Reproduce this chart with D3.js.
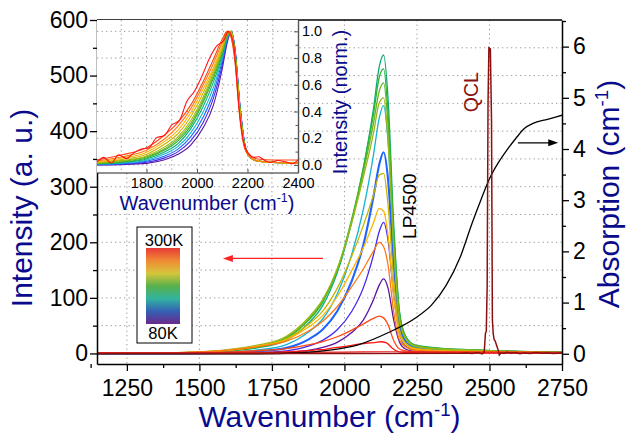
<!DOCTYPE html>
<html>
<head>
<meta charset="utf-8">
<script src="https://cdn.jsdelivr.net/npm/d3@7"></script>
<style>
  body { margin: 0; background: #fff; }
  text { font-family: Arial, "Liberation Sans", sans-serif; }
</style>
</head>
<body>
<div id="chart"></div>
<script>
// wavenumber grid (cm-1) shared by the temperature spectra
const wn = [1150, 1450, 1600, 1700, 1800, 1875, 1925, 1975, 2025, 2065, 2100, 2120, 2135, 2150, 2170, 2190, 2210, 2240, 2300, 2450, 2750];

// emission spectra (a. u.), coldest (80K, purple) towards hot (red)
const spectra = [
  [0, 0, 0, 0.4, 1.6, 5.4, 10.7, 20, 37.5, 60, 96.5, 123, 134, 118, 60, 20, 8, 4, 2.7, 1.6, 0.5],
  [0, 0, 0.5, 1.4, 4.7, 13, 23.6, 42.5, 75.5, 118, 177, 219.5, 236, 205, 104, 35, 14, 7, 4.7, 2.8, 1],
  [0, 0.2, 1.4, 3.6, 10, 25, 43, 76, 130, 195, 282, 340, 362, 315, 159, 52, 22, 11, 7, 4.3, 1.4],
  [0, 0.4, 2.7, 6.2, 16, 38, 62, 107, 178, 259, 357, 424, 446, 384, 192, 62, 27, 13, 9, 5.4, 1.8],
  [0, 1, 4, 10, 24, 54, 86, 145, 236, 333, 440, 516, 537, 462, 231, 75, 32, 16, 11, 6.4, 2],
  [0, 1.3, 5, 11, 27, 59, 92, 149, 241, 333, 430, 497, 512, 435, 215, 72, 31, 15, 10, 6, 2],
  [0, 1.5, 6, 13, 29, 61, 95, 151, 239, 326, 414, 472, 487, 414, 205, 66, 29, 15, 10, 5.8, 2],
  [0, 2, 7, 15, 31, 64, 97, 152, 235, 317, 396, 451, 460, 386, 189, 60, 28, 14, 9, 5.5, 1.8],
  [0, 1.6, 6, 13, 26, 52, 76, 117, 175, 230, 285, 321, 324, 269, 130, 42, 19, 10, 6.5, 3.9, 1.3],
  [0, 1.6, 5.7, 13, 25, 47, 68, 102, 149, 190, 235, 261, 256, 214, 102, 33, 16, 8, 5, 3.1, 1],
  [0, 2, 6, 12, 22, 40, 58, 84, 120, 152, 184, 200, 192, 160, 74, 24, 12, 6, 4, 2.4, 0.8],
  [0, 1, 2.5, 5, 8.7, 15.4, 21.4, 30, 42, 53, 63, 67, 64, 52, 23, 8, 4.7, 3, 2.5, 2.5, 1.5]
];
const spectrumColors = ["#5a14a0", "#4428f0", "#1e64ff", "#14b4d2", "#10aa78", "#28b432",
  "#64b41e", "#9ab814", "#c8b400", "#ffb400", "#ff7814", "#ff4614"];

// hottest spectrum, noisy, own grid
const hotWn = [1150, 1300, 1450, 1550, 1600, 1630, 1660, 1690, 1720, 1750, 1780, 1810, 1840, 1870, 1900, 1930, 1960, 1990, 2020, 2050, 2080, 2105, 2125, 2145, 2165, 2185, 2205, 2225, 2245, 2265, 2290, 2320, 2350, 2380, 2410, 2450, 2550, 2750];
const hotIntensity = [0.3, 0.5, 0.4, 0.6, 0.5, 1.2, 0.3, 1.6, 1.0, 1.9, 2.5, 2.7, 4.3, 4.6, 6.3, 7, 10, 11.6, 14, 16.8, 18.8, 19.5, 21, 19, 9.5, 3.5, 1.8, 1.2, 1.3, 0.8, 0.4, 0.7, 0.5, 0.2, 1.0, 0.6, 0.5, 0.4];
const hotColor = "#ff1414";

// nearly flat red trace
const flatWn = [1150, 1700, 2000, 2150, 2300, 2750];
const flatIntensity = [1.5, 2, 2.5, 3, 2.5, 2];

// QCL emission line
const qclWn = [1150, 2000, 2400, 2420, 2440, 2460, 2475, 2482, 2486, 2489, 2492, 2495, 2498, 2503, 2507, 2510, 2513, 2516, 2520, 2525, 2530, 2534, 2540, 2550, 2560, 2575, 2590, 2605, 2620, 2640, 2660, 2680, 2700, 2720, 2750];
const qclIntensity = [0, 0, 0.5, 1, 0, 1.5, -1, 3, 36, 40, 120, 450, 550, 548, 420, 60, 35, 25, 22, 14, 6, -3, 1, 0, 2, 0.5, 1.5, -0.5, 1, 0, 1.5, 0.5, 1, 0, 1];

// LP4500 filter absorption (cm-1), right axis
const absWn = [1150, 1700, 1850, 1950, 2050, 2150, 2250, 2300, 2350, 2400, 2440, 2470, 2500, 2530, 2560, 2590, 2620, 2650, 2700, 2750];
const absValues = [0, 0, 0.02, 0.07, 0.18, 0.41, 0.72, 0.95, 1.33, 1.9, 2.55, 3.0, 3.42, 3.73, 3.98, 4.2, 4.4, 4.5, 4.58, 4.66];

// ticks
const xTicks = [1250, 1500, 1750, 2000, 2250, 2500, 2750];
const yTicks = [0, 100, 200, 300, 400, 500, 600];
const absTicks = [0, 1, 2, 3, 4, 5, 6];
const insetXTicks = [1800, 2000, 2200, 2400];
const insetYTicks = [0, 0.2, 0.4, 0.6, 0.8, 1.0];
const colorbarStops = ["#e83a36", "#f08a34", "#d6c63c", "#58b04a", "#32b4a0", "#3460b4", "#6a2a8a"];

const W = 631, H = 433;
const m = { l: 97, r: 562, t: 20, b: 364 };
const navy = "#0a0a8c";
const intFmt = d3.format("d");

const svg = d3.select("#chart").append("svg").attr("width", W).attr("height", H);

const x = d3.scaleLinear().domain([1147, 2750]).range([m.l, m.r]);
const y = d3.scaleLinear().domain([-19, 600]).range([m.b, m.t]);
const yAbs = d3.scaleLinear().domain([-0.2, 6.52]).range([m.b, m.t]);

svg.append("clipPath").attr("id", "clipMain").append("rect")
  .attr("x", m.l).attr("y", m.t).attr("width", m.r - m.l).attr("height", m.b - m.t);

// grid
const grid = svg.append("g").attr("stroke", "#9a9a9a").attr("stroke-width", 1).attr("stroke-dasharray", "1.3,3.2");
grid.selectAll(".gx").data(xTicks.slice(0, -1)).join("line")
  .attr("x1", d => x(d)).attr("x2", d => x(d)).attr("y1", m.t).attr("y2", m.b);
grid.selectAll(".gy").data(d3.range(0, 600, 50)).join("line")
  .attr("x1", m.l).attr("x2", m.r).attr("y1", d => y(d)).attr("y2", d => y(d));

// curves
const plot = svg.append("g").attr("clip-path", "url(#clipMain)");
const line = d3.line().x(d => x(d[0])).y(d => y(d[1])).curve(d3.curveMonotoneX);

spectra.forEach((s, i) => {
  plot.append("path").datum(wn.map((w, k) => [w, s[k]]))
    .attr("fill", "none").attr("stroke", spectrumColors[i])
    .attr("stroke-width", i === 2 ? 2.1 : 1.3).attr("d", line);
});
plot.append("path").datum(hotWn.map((w, k) => [w, hotIntensity[k]]))
  .attr("fill", "none").attr("stroke", hotColor).attr("stroke-width", 1.3).attr("d", line);
plot.append("path").datum(flatWn.map((w, k) => [w, flatIntensity[k]]))
  .attr("fill", "none").attr("stroke", "#e82020").attr("stroke-width", 1.2).attr("d", line);

const absLine = d3.line().x(d => x(d[0])).y(d => yAbs(d[1])).curve(d3.curveMonotoneX);
plot.append("path").datum(absWn.map((w, k) => [w, absValues[k]]))
  .attr("fill", "none").attr("stroke", "#000").attr("stroke-width", 1.3).attr("d", absLine);

plot.append("path").datum(qclWn.map((w, k) => [w, qclIntensity[k]]))
  .attr("fill", "none").attr("stroke", "#8b1010").attr("stroke-width", 1.5)
  .attr("d", d3.line().x(d => x(d[0])).y(d => y(d[1])));

// axes
function styleAxis(g) {
  g.selectAll("path.domain").attr("stroke", "#000").attr("stroke-width", 1.5);
  g.selectAll(".tick line").attr("stroke", "#000").attr("stroke-width", 1.3);
  g.selectAll(".tick text").attr("fill", "#000").attr("font-size", 23).attr("font-family", "Arial, 'Liberation Sans', sans-serif");
}
function minor(g) {
  g.select("path.domain").remove();
  g.selectAll(".tick line").attr("stroke", "#000").attr("stroke-width", 1.3);
}

svg.append("g").attr("transform", `translate(${m.l},0)`)
  .call(d3.axisLeft(y).tickValues(yTicks).tickFormat(intFmt).tickSize(7).tickPadding(2).tickSizeOuter(0)).call(styleAxis);
svg.append("g").attr("transform", `translate(${m.l},0)`)
  .call(d3.axisLeft(y).tickValues(d3.range(50, 600, 100)).tickSize(4).tickFormat("")).call(minor);

svg.append("g").attr("transform", `translate(0,${m.b})`)
  .call(d3.axisBottom(x).tickValues(xTicks).tickFormat(intFmt).tickSize(7).tickPadding(9).tickSizeOuter(0)).call(styleAxis);
svg.append("g").attr("transform", `translate(0,${m.b})`)
  .call(d3.axisBottom(x).tickValues(xTicks.map(t => t - 125)).tickSize(4).tickFormat("")).call(minor);

svg.append("g").attr("transform", `translate(${m.r},0)`)
  .call(d3.axisRight(yAbs).tickValues(absTicks).tickFormat(intFmt).tickSize(7).tickPadding(4).tickSizeOuter(0)).call(styleAxis);
svg.append("g").attr("transform", `translate(${m.r},0)`)
  .call(d3.axisRight(yAbs).tickValues(absTicks.map(t => t + 0.5)).tickSize(4).tickFormat("")).call(minor);

svg.append("line").attr("x1", m.l).attr("x2", m.r).attr("y1", m.t).attr("y2", m.t)
  .attr("stroke", "#000").attr("stroke-width", 1.5);

// axis titles with superscript
function cmLabel(t, pre, size) {
  t.append("tspan").text(pre + " (cm");
  t.append("tspan").attr("dy", -size * 0.38).attr("font-size", size * 0.62).text("-1");
  t.append("tspan").attr("dy", size * 0.38).text(")");
}

const xt = svg.append("text").attr("x", (m.l + m.r) / 2).attr("y", 427)
  .attr("text-anchor", "middle").attr("font-size", 30).attr("fill", navy);
cmLabel(xt, "Wavenumber", 30);

svg.append("text").attr("transform", "translate(32,208) rotate(-90)")
  .attr("text-anchor", "middle").attr("font-size", 30).attr("fill", navy)
  .text("Intensity (a. u.)");

const rt = svg.append("text").attr("transform", "translate(619,194) rotate(-90)")
  .attr("text-anchor", "middle").attr("font-size", 30).attr("fill", navy);
cmLabel(rt, "Absorption", 30);

// annotations
svg.append("text").attr("transform", `translate(${x(2460)},${y(470)}) rotate(-90)`)
  .attr("text-anchor", "middle").attr("font-size", 19.5).attr("fill", "#8b1010").text("QCL");
svg.append("text").attr("transform", `translate(${x(2247)},${y(265)}) rotate(-90)`)
  .attr("text-anchor", "middle").attr("font-size", 19).attr("fill", "#000").text("LP4500");

function arrow(x1, x2, yy, color) {
  const dir = x2 > x1 ? 1 : -1;
  svg.append("line").attr("x1", x1).attr("x2", x2 - dir * 8).attr("y1", yy).attr("y2", yy)
    .attr("stroke", color).attr("stroke-width", 1.4);
  svg.append("path").attr("d", `M${x2},${yy} L${x2 - dir * 10},${yy - 3.5} L${x2 - dir * 10},${yy + 3.5} Z`)
    .attr("fill", color);
}
arrow(x(1926), x(1581), y(171), "#ff2020");
arrow(x(2598), x(2737), yAbs(4.12), "#000");

// colour bar legend
const defs = svg.append("defs");
const grad = defs.append("linearGradient").attr("id", "cbar").attr("x1", 0).attr("x2", 0).attr("y1", 0).attr("y2", 1);
colorbarStops.forEach((c, i) => grad.append("stop").attr("offset", i / (colorbarStops.length - 1)).attr("stop-color", c));
svg.append("rect").attr("x", 137).attr("y", 227).attr("width", 55).attr("height", 116)
  .attr("fill", "#fff").attr("stroke", "#000").attr("stroke-width", 1);
svg.append("rect").attr("x", 146).attr("y", 248).attr("width", 34).attr("height", 76).attr("fill", "url(#cbar)");
svg.append("text").attr("x", 164).attr("y", 246).attr("text-anchor", "middle").attr("font-size", 16.5).text("300K");
svg.append("text").attr("x", 163).attr("y", 339).attr("text-anchor", "middle").attr("font-size", 16.5).text("80K");

// inset: normalised spectra
const inset = { l: 97, r: 298, t: 20, b: 173 };
const xi = d3.scaleLinear().domain([1604, 2400]).range([inset.l, inset.r]);
const yi = d3.scaleLinear().domain([-0.06, 1.085]).range([inset.b, inset.t]);

const ig = svg.append("g");
ig.append("rect").attr("x", inset.l).attr("y", inset.t).attr("width", inset.r - inset.l).attr("height", inset.b - inset.t)
  .attr("fill", "#fff");
svg.append("clipPath").attr("id", "clipInset").append("rect")
  .attr("x", inset.l).attr("y", inset.t).attr("width", inset.r - inset.l).attr("height", inset.b - inset.t);

const igrid = ig.append("g").attr("stroke", "#9a9a9a").attr("stroke-width", 1).attr("stroke-dasharray", "1.3,3.2");
igrid.selectAll("line.v").data(d3.range(1700, 2400, 100)).join("line")
  .attr("x1", d => xi(d)).attr("x2", d => xi(d)).attr("y1", inset.t).attr("y2", inset.b);
igrid.selectAll("line.h").data(insetYTicks).join("line")
  .attr("x1", inset.l).attr("x2", inset.r).attr("y1", d => yi(d)).attr("y2", d => yi(d));

const iplot = ig.append("g").attr("clip-path", "url(#clipInset)");
const iline = d3.line().x(d => xi(d[0])).y(d => yi(d[1])).curve(d3.curveMonotoneX);
spectra.forEach((s, i) => {
  const mx = d3.max(s);
  iplot.append("path").datum(wn.map((w, k) => [w, s[k] / mx]))
    .attr("fill", "none").attr("stroke", spectrumColors[i]).attr("stroke-width", 1.1).attr("d", iline);
});
const hotMax = d3.max(hotIntensity);
iplot.append("path").datum(hotWn.map((w, k) => [w, hotIntensity[k] / hotMax]))
  .attr("fill", "none").attr("stroke", hotColor).attr("stroke-width", 1.1).attr("d", iline);

ig.append("line").attr("x1", inset.l).attr("x2", inset.r).attr("y1", inset.b).attr("y2", inset.b)
  .attr("stroke", "#222").attr("stroke-width", 1.2);

function insetAxis(g) {
  g.selectAll("path.domain").attr("stroke", "#555").attr("stroke-width", 1.4);
  g.selectAll(".tick line").attr("stroke", "#555").attr("stroke-width", 1);
  g.selectAll(".tick text").attr("fill", "#000").attr("font-size", 14.5).attr("font-family", "Arial, 'Liberation Sans', sans-serif");
}
ig.append("g").attr("transform", `translate(${inset.r},0)`)
  .call(d3.axisRight(yi).tickValues(insetYTicks).tickSize(-4).tickPadding(4).tickSizeOuter(0)
    .tickFormat(d3.format(".1f"))).call(insetAxis);
ig.append("g").attr("transform", `translate(${inset.r},0)`)
  .call(d3.axisRight(yi).tickValues(insetYTicks.slice(0, -1).map(t => t + 0.1)).tickSize(-2.5).tickFormat(""))
  .call(g => { g.select("path.domain").remove(); g.selectAll(".tick line").attr("stroke", "#555"); });
ig.append("g").attr("transform", `translate(0,${inset.b})`)
  .call(d3.axisBottom(xi).tickValues(insetXTicks).tickFormat(intFmt).tickSize(-4).tickPadding(5).tickSizeOuter(0)).call(insetAxis)
  .call(g => g.select("path.domain").remove());

const ixt = svg.append("text").attr("x", 207).attr("y", 210).attr("text-anchor", "middle")
  .attr("font-size", 20).attr("fill", navy);
cmLabel(ixt, "Wavenumber", 20);
svg.append("text").attr("transform", "translate(347,102) rotate(-90)").attr("text-anchor", "middle")
  .attr("font-size", 20).attr("fill", navy).text("Intensity (norm.)");
</script>
</body>
</html>
